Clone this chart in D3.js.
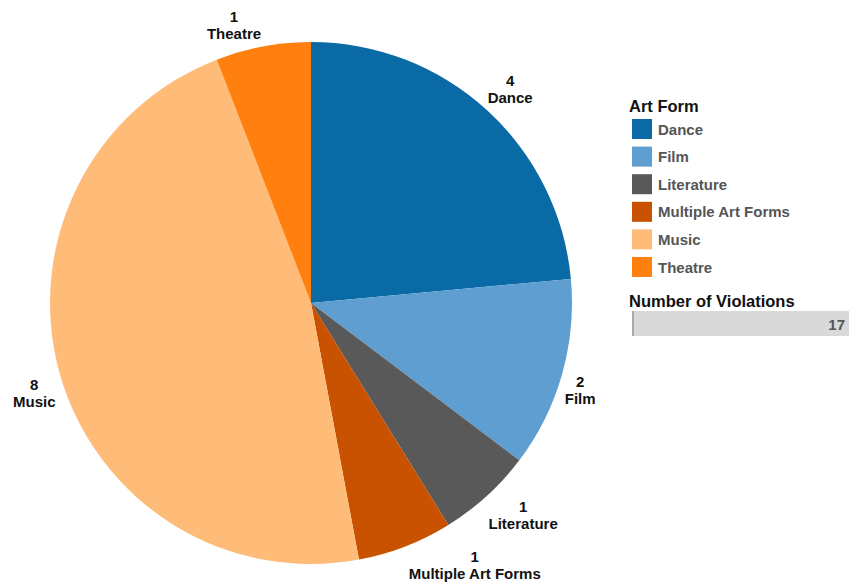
<!DOCTYPE html>
<html><head><meta charset="utf-8">
<script src="https://cdn.jsdelivr.net/npm/d3@7"></script>
<style>body{margin:0;background:#fff;} text{font-family:Arial,"Liberation Sans",sans-serif;font-weight:bold;}</style>
</head><body>
<svg id="chart" width="859" height="582"></svg>
<script>
const categories = ["Dance","Film","Literature","Multiple Art Forms","Music","Theatre"];
const values = [4,2,1,1,8,1];
const colors = ["#0a6aa6","#5f9ed1","#595959","#c85200","#ffbc79","#ff800e"];
const total = d3.sum(values);
// label placement (angle in degrees from top clockwise, radius in px)
const labelPos = [[43,292],[108,283],[135,300],[148,309],[252,291],[344.5,288]];

const svg = d3.select("#chart");
const cx = 311, cy = 303, R = 261;
const data = categories.map((c,i)=>({cat:c,val:values[i],color:colors[i]}));
const pie = d3.pie().value(d=>d.val).sort(null);
const arc = d3.arc().innerRadius(0).outerRadius(R);
const g = svg.append("g").attr("transform",`translate(${cx},${cy})`);
const arcs = pie(data);
g.selectAll("path").data(arcs).join("path").attr("d",arc).attr("fill",d=>d.data.color);

const lg = g.selectAll("g.lab").data(arcs).join("g").attr("class","lab")
  .attr("transform",(d,i)=>{const a=labelPos[i][0]*Math.PI/180, r=labelPos[i][1];
    return `translate(${r*Math.sin(a)},${-r*Math.cos(a)})`;});
lg.append("text").attr("text-anchor","middle").attr("y",-3).attr("font-size",15).attr("fill","#111").text(d=>d.data.val);
lg.append("text").attr("text-anchor","middle").attr("y",14).attr("font-size",15).attr("fill","#111").text(d=>d.data.cat);

// legend
const leg = svg.append("g").attr("transform","translate(629,0)");
leg.append("text").attr("x",0).attr("y",112).attr("font-size",16.5).attr("fill","#111").text("Art Form");
const ly = d3.scaleBand().domain(categories).range([119,119+27.6*6]);
const items = leg.selectAll("g.it").data(data).join("g").attr("class","it")
  .attr("transform",d=>`translate(0,${ly(d.cat)})`);
items.append("rect").attr("x",3).attr("y",0).attr("width",20).attr("height",20).attr("fill",d=>d.color);
items.append("text").attr("x",29).attr("y",15.5).attr("font-size",15).attr("fill","#555").text(d=>d.cat);

leg.append("text").attr("x",0).attr("y",307).attr("font-size",16.5).attr("fill","#111").text("Number of Violations");
const bx = d3.scaleLinear().domain([0,total]).range([3,220]);
leg.append("rect").attr("x",bx(0)).attr("y",311).attr("width",bx(total)-bx(0)).attr("height",25).attr("fill","#d9d9d9");
leg.append("rect").attr("x",bx(0)).attr("y",311).attr("width",2).attr("height",25).attr("fill","#aaaaaa");
leg.append("text").attr("x",bx(total)-4).attr("y",330).attr("text-anchor","end").attr("font-size",15).attr("fill","#555").text(total);
</script>
</body></html>
